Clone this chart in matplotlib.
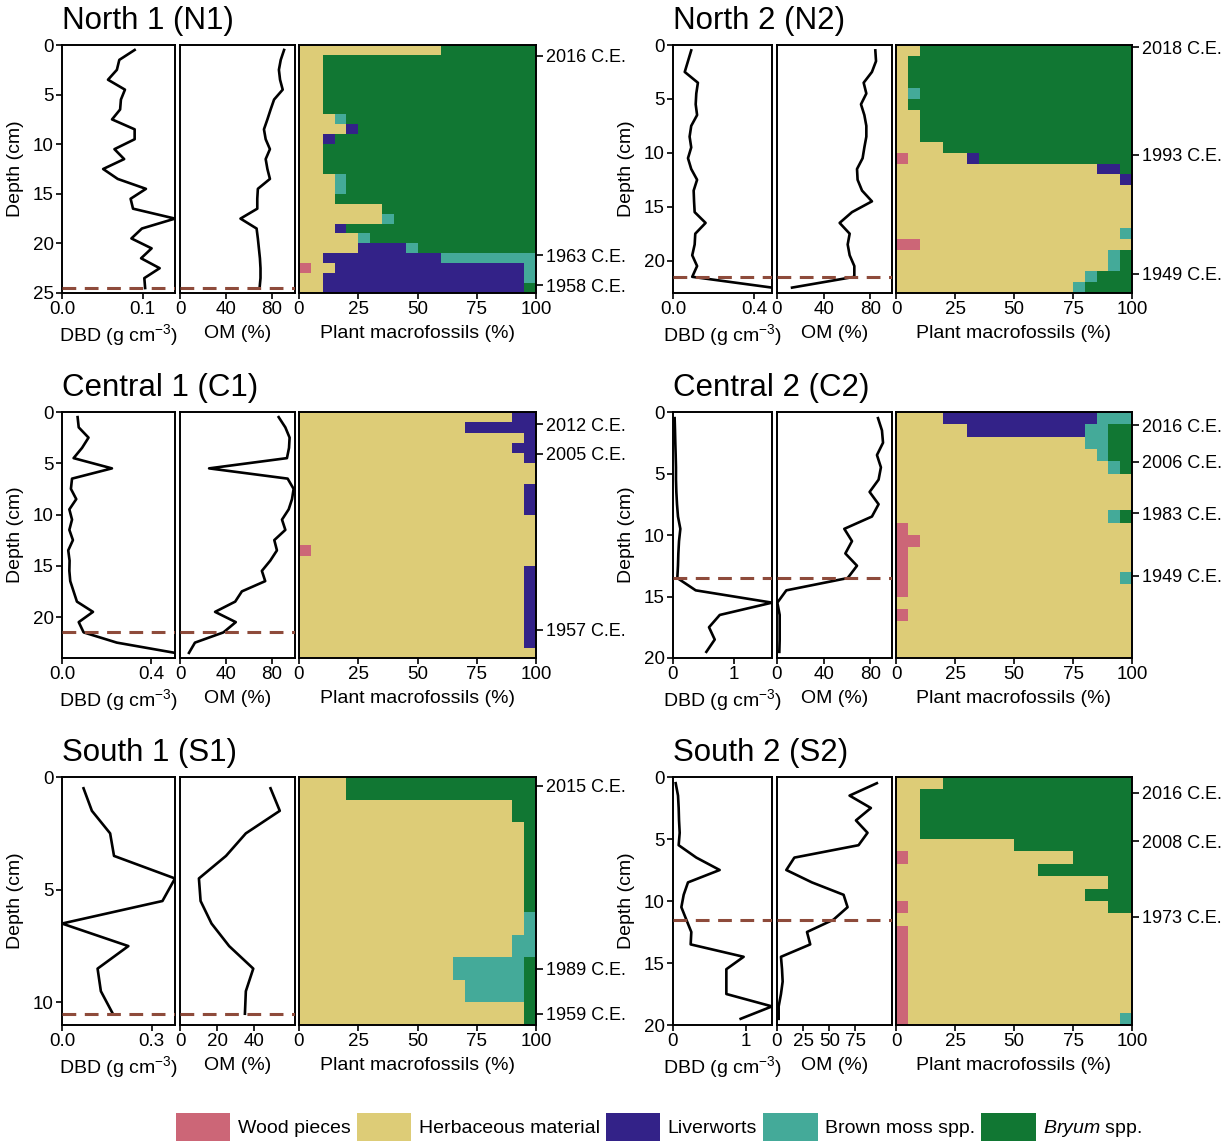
import numpy as np
import matplotlib
matplotlib.use("Agg")
import matplotlib.pyplot as plt
from matplotlib.patches import Patch

plt.rcParams['font.family'] = ['Liberation Sans', 'DejaVu Sans']
plt.rcParams['mathtext.fontset'] = 'custom'
plt.rcParams['mathtext.rm'] = 'Liberation Sans'
plt.rcParams['mathtext.it'] = 'Liberation Sans:italic'

W, H = 1231, 1144

# ---- North 1 ----
n1_dbd = [0.090, 0.071, 0.068, 0.057, 0.078, 0.073, 0.072, 0.062, 0.090, 0.090,
          0.065, 0.077, 0.051, 0.069, 0.104, 0.085, 0.088, 0.140, 0.099, 0.086,
          0.111, 0.098, 0.121, 0.102, 0.103]
n1_om = [90.5, 87.6, 86, 87, 89.3, 81.8, 78.8, 76, 73, 74.5, 78.2, 74.5, 76, 78.2,
         67.7, 67.2, 67.2, 52.6, 66.6, 67.7, 68.6, 69.5, 70, 70, 69.2]
n1_wood = [0, 0, 0, 0, 0, 0, 0, 0, 0, 0, 0, 0, 0, 0, 0, 0, 0, 0, 0, 0, 0, 0, 5, 0, 0]
n1_herb = [60, 10, 10, 10, 10, 10, 10, 15, 20, 10, 10, 10, 10, 15, 15, 15, 35, 35, 15, 25, 25, 10, 10, 10, 10]
n1_liver = [0, 0, 0, 0, 0, 0, 0, 0, 5, 5, 0, 0, 0, 0, 0, 0, 0, 0, 5, 0, 20, 50, 80, 85, 85]
n1_brown = [0, 0, 0, 0, 0, 0, 0, 5, 0, 0, 0, 0, 0, 5, 5, 0, 0, 5, 0, 5, 5, 40, 5, 5, 0]
n1_bryum = [40, 90, 90, 90, 90, 90, 90, 80, 75, 85, 90, 90, 90, 80, 80, 85, 65, 60, 80, 70, 50, 0, 0, 0, 5]
n1_date_depth = [1.1, 21.2, 24.2]
n1_dates = ["2016 C.E.", "1963 C.E.", "1958 C.E."]
n1_cut = 24.5

# ---- North 2 ----
n2_dbd = [0.090, 0.074, 0.058, 0.123, 0.115, 0.112, 0.119, 0.090, 0.082, 0.090,
          0.074, 0.090, 0.119, 0.102, 0.104, 0.107, 0.161, 0.110, 0.107, 0.095,
          0.119, 0.095, 0.489]
n2_om = [84.3, 84.9, 81.4, 74.3, 76.6, 72, 74.9, 76.6, 76.6, 74.9, 73.4, 68.6, 69.1,
         72.9, 81.4, 64.3, 53.7, 62.3, 60.6, 62.3, 66.3, 66.3, 12.9]
n2_wood = [0, 0, 0, 0, 0, 0, 0, 0, 0, 0, 5, 0, 0, 0, 0, 0, 0, 0, 10, 0, 0, 0, 0]
n2_herb = [10, 5, 5, 5, 5, 5, 10, 10, 10, 20, 25, 85, 95, 100, 100, 100, 100, 95, 90, 90, 90, 80, 75]
n2_liver = [0, 0, 0, 0, 0, 0, 0, 0, 0, 0, 5, 10, 5, 0, 0, 0, 0, 0, 0, 0, 0, 0, 0]
n2_brown = [0, 0, 0, 0, 5, 0, 0, 0, 0, 0, 0, 0, 0, 0, 0, 0, 0, 5, 0, 5, 5, 5, 5]
n2_bryum = [90, 95, 95, 95, 90, 95, 90, 90, 90, 80, 65, 5, 0, 0, 0, 0, 0, 0, 0, 5, 5, 15, 20]
n2_date_depth = [0.2, 10.2, 21.2]
n2_dates = ["2018 C.E.", "1993 C.E.", "1949 C.E."]
n2_cut = 21.5

# ---- Central 1 ----
c1_dbd = [0.070, 0.075, 0.119, 0.090, 0.052, 0.224, 0.045, 0.040, 0.064, 0.033,
          0.045, 0.033, 0.049, 0.028, 0.034, 0.033, 0.037, 0.052, 0.067, 0.139,
          0.075, 0.097, 0.246, 0.507]
c1_om = [85.8, 91.6, 95.3, 94.8, 93, 25.3, 93.6, 98.8, 97.4, 94.5, 88.7, 91.6, 82,
         84.3, 78.5, 71.2, 74.1, 53.8, 48, 30.5, 48.5, 37.8, 13, 7.8]
c1_wood = [0, 0, 0, 0, 0, 0, 0, 0, 0, 0, 0, 0, 0, 5, 0, 0, 0, 0, 0, 0, 0, 0, 0, 0]
c1_herb = [90, 70, 95, 90, 95, 100, 100, 95, 95, 95, 100, 100, 100, 95, 100, 95, 95, 95, 95, 95, 95, 95, 95, 100]
c1_liver = [10, 30, 5, 10, 5, 0, 0, 5, 5, 5, 0, 0, 0, 0, 0, 5, 5, 5, 5, 5, 5, 5, 5, 0]
c1_brown = [0] * 24
c1_bryum = [0] * 24
c1_date_depth = [1.2, 4.05, 21.25]
c1_dates = ["2012 C.E.", "2005 C.E.", "1957 C.E."]
c1_cut = 21.5

# ---- Central 2 ----
c2_dbd = [0.027, 0.033, 0.038, 0.044, 0.049, 0.049, 0.055, 0.066, 0.082, 0.121,
          0.099, 0.088, 0.082, 0.071, 0.374, 1.63, 0.770, 0.593, 0.687, 0.549]
c2_om = [86.6, 90, 90.9, 85.7, 89.1, 87.1, 79.4, 87.1, 81.4, 57.7, 64.3, 58.6, 68.6,
         60.6, 8, 0.3, 2.3, 2.3, 2.3, 2]
c2_wood = [0, 0, 0, 0, 0, 0, 0, 0, 0, 5, 10, 5, 5, 5, 5, 0, 5, 0, 0, 0]
c2_herb = [20, 30, 80, 85, 90, 100, 100, 100, 90, 95, 90, 95, 95, 90, 95, 100, 95, 100, 100, 100]
c2_liver = [65, 50, 0, 0, 0, 0, 0, 0, 0, 0, 0, 0, 0, 0, 0, 0, 0, 0, 0, 0]
c2_brown = [15, 10, 10, 5, 5, 0, 0, 0, 5, 0, 0, 0, 0, 5, 0, 0, 0, 0, 0, 0]
c2_bryum = [0, 10, 10, 10, 5, 0, 0, 0, 5, 0, 0, 0, 0, 0, 0, 0, 0, 0, 0, 0]
c2_date_depth = [1.08, 4.05, 8.24, 13.3]
c2_dates = ["2016 C.E.", "2006 C.E.", "1983 C.E.", "1949 C.E."]
c2_cut = 13.5

# ---- South 1 ----
s1_dbd = [0.072, 0.100, 0.161, 0.174, 0.378, 0.336, 0.0, 0.222, 0.119, 0.130, 0.170]
s1_om = [48.8, 53.8, 35.5, 24.8, 10.2, 11.1, 17, 26.5, 39.5, 35.5, 35]
s1_wood = [0] * 11
s1_herb = [20, 90, 95, 95, 95, 95, 95, 90, 65, 70, 95]
s1_liver = [0] * 11
s1_brown = [0, 0, 0, 0, 0, 0, 5, 10, 30, 25, 0]
s1_bryum = [80, 10, 5, 5, 5, 5, 0, 0, 5, 5, 5]
s1_date_depth = [0.39, 8.5, 10.5]
s1_dates = ["2015 C.E.", "1989 C.E.", "1959 C.E."]
s1_cut = 10.5

# ---- South 2 ----
s2_dbd = [0.037, 0.069, 0.078, 0.083, 0.092, 0.078, 0.321, 0.642, 0.206, 0.147,
          0.115, 0.183, 0.252, 0.243, 0.972, 0.734, 0.734, 0.734, 1.362, 0.931]
s2_om = [95.5, 69.4, 89.8, 75.5, 86.6, 78, 16.6, 8.9, 33.4, 63.7, 67.5, 54.1, 28.7,
         31.8, 3.8, 4.8, 5.4, 3.8, 1.6, 1.6]
s2_wood = [0, 0, 0, 0, 0, 0, 5, 0, 0, 0, 5, 0, 5, 5, 5, 5, 5, 5, 5, 5]
s2_herb = [20, 10, 10, 10, 10, 50, 70, 60, 90, 80, 85, 100, 95, 95, 95, 95, 95, 95, 95, 90]
s2_liver = [0] * 20
s2_brown = [0] * 19 + [5]
s2_bryum = [80, 90, 90, 90, 90, 50, 25, 40, 10, 20, 10, 0, 0, 0, 0, 0, 0, 0, 0, 0]
s2_date_depth = [1.29, 5.2, 11.25]
s2_dates = ["2016 C.E.", "2008 C.E.", "1973 C.E."]
s2_cut = 11.5

categories = ["Wood pieces", "Herbaceous material", "Liverworts", "Brown moss spp.", r"$\it{Bryum}$ spp."]
colors = ["#CC6677", "#DDCC77", "#332288", "#44AA99", "#117733"]
cut_color = "#8E4B3B"

fig = plt.figure(figsize=(W / 100, H / 100), dpi=100)


def add_ax(x0, x1, y0, y1):
    return fig.add_axes([x0 / W, 1 - y1 / H, (x1 - x0) / W, (y1 - y0) / H])


def style(ax):
    for s in ax.spines.values():
        s.set_linewidth(1.4)
        s.set_color("black")
    ax.tick_params(labelsize=13.5, length=4, width=1.2, pad=2, color="black")


def draw_core(cols, rows, title, dbd, om, plant, depth_max, depth_ticks,
              dbd_lim, dbd_ticks, dbd_labels, om_lim, om_ticks, cut, date_depth, dates):
    (dx0, dx1), (ox0, ox1), (px0, px1) = cols
    y0, y1 = rows
    depth = np.arange(len(dbd)) + 0.5

    ax1 = add_ax(dx0, dx1, y0, y1)
    ax1.plot(dbd, depth, color="black", lw=1.9)
    ax1.axhline(cut, color=cut_color, lw=2.2, ls=(0, (4.5, 2.8)), zorder=5)
    ax1.set_xlim(*dbd_lim)
    ax1.set_ylim(depth_max, 0)
    ax1.set_xticks(dbd_ticks, dbd_labels)
    ax1.set_yticks(depth_ticks)
    ax1.set_xlabel(r"DBD (g cm$^{-3}$)", fontsize=14, labelpad=3)
    ax1.set_ylabel("Depth (cm)", fontsize=14, labelpad=6)
    style(ax1)

    ax2 = add_ax(ox0, ox1, y0, y1)
    ax2.plot(om, depth, color="black", lw=1.9)
    ax2.axhline(cut, color=cut_color, lw=2.2, ls=(0, (4.5, 2.8)), zorder=5)
    ax2.set_xlim(*om_lim)
    ax2.set_ylim(depth_max, 0)
    ax2.set_xticks(om_ticks)
    ax2.set_yticks([])
    ax2.set_xlabel("OM (%)", fontsize=14, labelpad=5)
    style(ax2)

    ax3 = add_ax(px0, px1, y0, y1)
    pdepth = np.arange(len(plant[0])) + 0.5
    left = np.zeros(len(pdepth))
    for vals, c in zip(plant, colors):
        vals = np.asarray(vals, dtype=float)
        ax3.barh(pdepth, vals, left=left, height=1.0, color=c, linewidth=0,
                 antialiased=False)
        left += vals
    ax3.set_xlim(0, 100)
    ax3.set_ylim(len(pdepth), 0)
    ax3.set_xticks([0, 25, 50, 75, 100])
    ax3.yaxis.tick_right()
    ax3.set_yticks(date_depth, dates)
    ax3.set_xlabel("Plant macrofossils (%)", fontsize=14, labelpad=5)
    style(ax3)
    ax3.tick_params(axis="y", labelsize=13, length=5, pad=2)

    fig.text(dx0 / W, 1 - (y0 - 24) / H, title, fontsize=22.5, ha="left", va="center")


left_cols = ((62, 175), (180, 295), (299, 536))
right_cols = ((673, 772), (777, 892), (896, 1132))
row_n = (45, 293)
row_c = (412, 658)
row_s = (777, 1025)

draw_core(left_cols, row_n, "North 1 (N1)", n1_dbd, n1_om,
          [n1_wood, n1_herb, n1_liver, n1_brown, n1_bryum], 25, [0, 5, 10, 15, 20, 25],
          (0, 0.14), [0, 0.1], ["0.0", "0.1"], (0, 100), [0, 40, 80], n1_cut, n1_date_depth, n1_dates)
draw_core(right_cols, row_n, "North 2 (N2)", n2_dbd, n2_om,
          [n2_wood, n2_herb, n2_liver, n2_brown, n2_bryum], 23, [0, 5, 10, 15, 20],
          (0, 0.489), [0, 0.4], ["0.0", "0.4"], (0, 98.6), [0, 40, 80], n2_cut, n2_date_depth, n2_dates)
draw_core(left_cols, row_c, "Central 1 (C1)", c1_dbd, c1_om,
          [c1_wood, c1_herb, c1_liver, c1_brown, c1_bryum], 24, [0, 5, 10, 15, 20],
          (0, 0.507), [0, 0.4], ["0.0", "0.4"], (0, 100), [0, 40, 80], c1_cut, c1_date_depth, c1_dates)
draw_core(right_cols, row_c, "Central 2 (C2)", c2_dbd, c2_om,
          [c2_wood, c2_herb, c2_liver, c2_brown, c2_bryum], 20, [0, 5, 10, 15, 20],
          (0, 1.63), [0, 1], ["0", "1"], (0, 98.6), [0, 40, 80], c2_cut, c2_date_depth, c2_dates)
draw_core(left_cols, row_s, "South 1 (S1)", s1_dbd, s1_om,
          [s1_wood, s1_herb, s1_liver, s1_brown, s1_bryum], 11, [0, 5, 10],
          (0, 0.378), [0, 0.3], ["0.0", "0.3"], (0, 62), [0, 20, 40], s1_cut, s1_date_depth, s1_dates)
draw_core(right_cols, row_s, "South 2 (S2)", s2_dbd, s2_om,
          [s2_wood, s2_herb, s2_liver, s2_brown, s2_bryum], 20, [0, 5, 10, 15, 20],
          (0, 1.362), [0, 1], ["0", "1"], (0, 110), [0, 25, 50, 75], s2_cut, s2_date_depth, s2_dates)

handles = [Patch(facecolor=c, edgecolor="none") for c in colors]
fig.legend(handles, categories, loc="center", bbox_to_anchor=(659 / W, 1 - 1127 / H),
           ncol=5, frameon=False, fontsize=14, handlelength=2.8, handleheight=1.8,
           handletextpad=0.4, columnspacing=0.3, borderaxespad=0)

fig.savefig("out.png", dpi=100)
